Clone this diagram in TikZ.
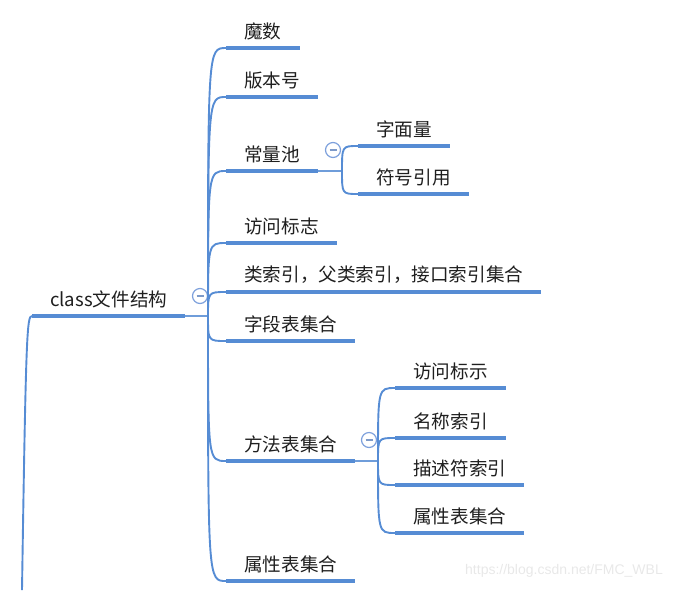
\documentclass[tikz,border=0pt]{standalone}
\usepackage{fontspec}
\newfontfamily\cjk{Noto Sans CJK SC}
\newfontfamily\wmfont{Liberation Sans}
\definecolor{mapblue}{RGB}{86,140,212}
\definecolor{foldblue}{RGB}{125,160,220}
\tikzset{
  topic/.style={font=\cjk\fontsize{18.6}{21}\selectfont, text=black!88, inner xsep=18pt, inner ysep=8pt, anchor=south west},
  uline/.style={draw=mapblue, line width=4.5pt},
  branch/.style={draw=mapblue, line width=1.9pt},
  stub/.style={draw=mapblue!85, line width=1.3pt},
  fold/.style={circle, draw=foldblue, fill=white, line width=1.2pt, minimum size=15pt, inner sep=0pt,
    path picture={\draw[foldblue!80!gray, line width=1.4pt] (path picture bounding box.center) +(-3.5pt,0) -- +(3.5pt,0);}},
}
\begin{document}
\begin{tikzpicture}[x=1pt, y=-1pt]
\useasboundingbox (0,0) rectangle (685,590);

% root
\node[topic] (root) at (32,316) {class文件结构};
\coordinate (rootin) at (22,590);
\coordinate (hubA) at (208,316);
\node[fold] (foldA) at (200,296) {};

% first level
\node[topic] (magic) at (226,48) {魔数};
\node[topic] (ver) at (226,97) {版本号};
\node[topic] (pool) at (226,171) {常量池};
\node[topic] (acc) at (226,243) {访问标志};
\node[topic] (idx) at (226,292) {类索引，父类索引，接口索引集合};
\node[topic] (field) at (226,341) {字段表集合};
\node[topic] (meth) at (226,461) {方法表集合};
\node[topic] (attr) at (226,581) {属性表集合};

% constant pool
\coordinate (hubB) at (342,171);
\node[fold] (foldB) at (333,150) {};
\node[topic] (lit) at (358,146) {字面量};
\node[topic] (sym) at (358,194) {符号引用};

% methods
\coordinate (hubC) at (378,461);
\node[fold] (foldC) at (369,440) {};
\node[topic] (macc) at (395,388) {访问标示};
\node[topic] (mname) at (395,438) {名称索引};
\node[topic] (mdesc) at (395,485) {描述符索引};
\node[topic] (mattr) at (395,533) {属性表集合};

\node[font=\wmfont\fontsize{14}{16}\selectfont, text=black!9] (wm) at (564,571) {https://blog.csdn.net/FMC\_WBL};

\draw[branch] (rootin) .. controls (26,330) and (27,316) .. (root.south west);
\draw[stub] (root.south east) -- (hubA);
\draw[stub] (pool.south east) -- (hubB);
\draw[stub] (meth.south east) -- (hubC);

\foreach \n in {magic,ver,pool,acc,idx,field,meth,attr}
  \draw[branch] (hubA) .. controls (hubA |- \n.south west) .. (\n.south west);
\foreach \n in {lit,sym}
  \draw[branch] (hubB) .. controls (hubB |- \n.south west) .. (\n.south west);
\foreach \n in {macc,mname,mdesc,mattr}
  \draw[branch] (hubC) .. controls (hubC |- \n.south west) .. (\n.south west);

\foreach \n in {root,magic,ver,pool,acc,idx,field,meth,attr,lit,sym,macc,mname,mdesc,mattr}
  \draw[uline] (\n.south west) -- (\n.south east);
\end{tikzpicture}
\end{document}
